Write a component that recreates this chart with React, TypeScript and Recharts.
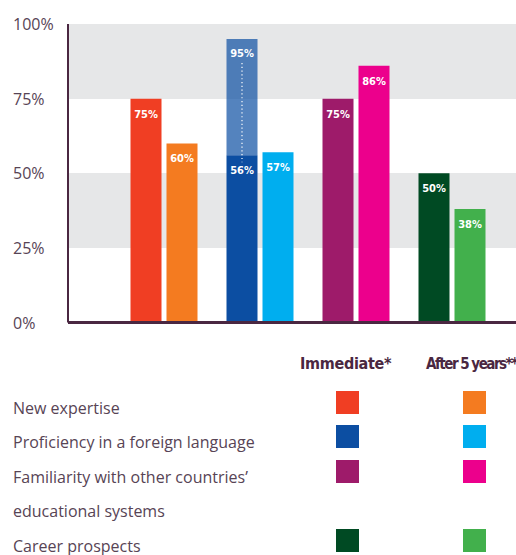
import { Bar, BarChart, CartesianGrid, Cell, LabelList, XAxis, YAxis } from "recharts";

const categories = [
  "New expertise",
  "Proficiency in a foreign language",
  "Familiarity with other countries’ educational systems",
  "Career prospects",
];
const legendLines = [
  ["New expertise"],
  ["Proficiency in a foreign language"],
  ["Familiarity with other countries’", "educational systems"],
  ["Career prospects"],
];
const immediate = [75, 56, 75, 50];
const immediateUpper = [0, 95, 0, 0];
const afterFive = [60, 57, 86, 38];
const immediateColors = ["#f03e23", "#0c4ea2", "#9e1b6a", "#004a23"];
const afterColors = ["#f47b20", "#00aeef", "#ec008c", "#42b04c"];
const yTicks = [0, 25, 50, 75, 100];

const data = categories.map((name, i) => ({
  name,
  immediate: immediate[i],
  extra: immediateUpper[i] ? immediateUpper[i] - immediate[i] : 0,
  upper: immediateUpper[i],
  after: afterFive[i],
}));

const AXIS = "#4a2741";
const TEXT = "#574455";
const LABEL_FONT = '"DejaVu Sans Condensed", "DejaVu Sans", sans-serif';
const BODY_FONT = '"Open Sans", "Noto Sans", sans-serif';
const LINE_STEP = 34.5;

function ValueLabel(props: any) {
  const { x, y, width, value } = props;
  if (!value) return null;
  return (
    <text
      x={x + width / 2}
      y={y + 15.5}
      fill="#fff"
      textAnchor="middle"
      dominantBaseline="central"
      fontFamily={LABEL_FONT}
      fontWeight={700}
      fontSize={11}
    >
      {value}%
    </text>
  );
}

function UpperLabel(props: any) {
  const { x, y, width, height, value } = props;
  if (!value) return null;
  const cx = x + width / 2;
  return (
    <g>
      <text
        x={cx}
        y={y + 14.5}
        fill="#fff"
        textAnchor="middle"
        dominantBaseline="central"
        fontFamily={LABEL_FONT}
        fontWeight={700}
        fontSize={11}
      >
        {value}%
      </text>
      <line
        x1={cx}
        x2={cx}
        y1={y + 24}
        y2={y + height + 7}
        stroke="#fff"
        strokeWidth={1.2}
        strokeDasharray="1.2 2.6"
      />
    </g>
  );
}

function PercentTick(props: any) {
  const { y, payload } = props;
  return (
    <text
      x={13}
      y={y}
      fill={TEXT}
      textAnchor="start"
      dominantBaseline="central"
      fontFamily={BODY_FONT}
      fontSize={16}
    >
      {payload.value}%
    </text>
  );
}

export default function App() {
  let rowTop = 390.5;
  const rows = legendLines.map((lines, i) => {
    const top = rowTop;
    rowTop += lines.length * LINE_STEP;
    return (
      <div key={i}>
        {lines.map((l, j) => (
          <div
            key={l}
            style={{
              position: "absolute",
              left: 13,
              top: top + j * LINE_STEP + 8,
              lineHeight: "18px",
              fontSize: 16,
              color: TEXT,
              fontFamily: BODY_FONT,
              whiteSpace: "nowrap",
            }}
          >
            {l}
          </div>
        ))}
        <div
          style={{
            position: "absolute",
            left: 336,
            top,
            width: 23,
            height: 23,
            background: immediateColors[i],
          }}
        />
        <div
          style={{
            position: "absolute",
            left: 463,
            top,
            width: 23,
            height: 23,
            background: afterColors[i],
          }}
        />
      </div>
    );
  });

  return (
    <div
      style={{
        position: "absolute",
        left: 0,
        top: 0,
        width: 516,
        height: 555,
        overflow: "hidden",
        background: "#fff",
      }}
    >
      <BarChart
        width={516}
        height={340}
        data={data}
        margin={{ top: 24, right: 0, bottom: 0, left: 0 }}
        barGap={5}
      >
        <CartesianGrid
          vertical={false}
          stroke="none"
          horizontalFill={["#e6e7e8", "#ffffff"]}
          fillOpacity={1}
        />
        <XAxis
          dataKey="name"
          height={17.5}
          tick={false}
          tickLine={false}
          axisLine={{ stroke: AXIS, strokeWidth: 3 }}
          padding={{ left: 47.5, right: 16.5 }}
        />
        <YAxis
          width={68}
          domain={[0, 100]}
          ticks={yTicks}
          tickLine={false}
          tick={<PercentTick />}
          axisLine={{ stroke: AXIS, strokeWidth: 2 }}
        />
        <Bar
          dataKey="immediate"
          stackId="a"
          barSize={31}
          isAnimationActive={false}
          label={<ValueLabel />}
        >
          {data.map((_, i) => (
            <Cell key={i} fill={immediateColors[i]} />
          ))}
        </Bar>
        <Bar
          dataKey="extra"
          stackId="a"
          barSize={31}
          fill="#0c4ea2"
          fillOpacity={0.7}
          isAnimationActive={false}
        >
          <LabelList dataKey="upper" content={<UpperLabel />} />
        </Bar>
        <Bar
          dataKey="after"
          stackId="b"
          barSize={31}
          isAnimationActive={false}
          label={<ValueLabel />}
        >
          {data.map((_, i) => (
            <Cell key={i} fill={afterColors[i]} />
          ))}
        </Bar>
      </BarChart>
      <div
        style={{
          position: "absolute",
          left: 300,
          top: 352,
          lineHeight: "24px",
          fontSize: 16,
          fontWeight: 700,
          color: AXIS,
          fontFamily: LABEL_FONT,
          whiteSpace: "nowrap",
          letterSpacing: -0.3,
        }}
      >
        Immediate*
      </div>
      <div
        style={{
          position: "absolute",
          left: 426,
          top: 352,
          lineHeight: "24px",
          fontSize: 15,
          fontWeight: 700,
          color: AXIS,
          fontFamily: LABEL_FONT,
          whiteSpace: "nowrap",
          letterSpacing: -1.5,
        }}
      >
        After 5 years**
      </div>
      {rows}
    </div>
  );
}
